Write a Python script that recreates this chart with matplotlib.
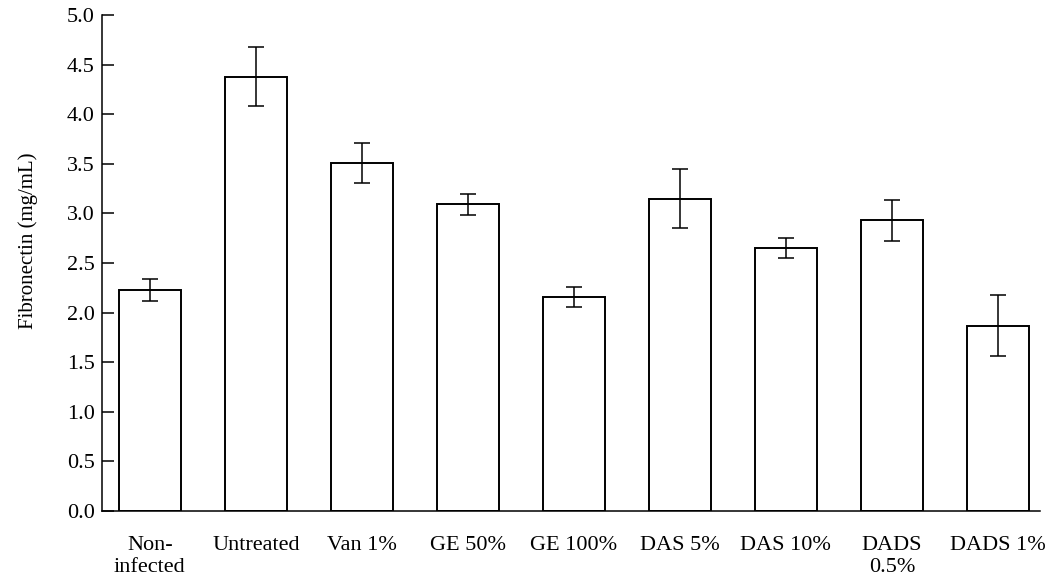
import matplotlib
matplotlib.use("Agg")
import matplotlib.pyplot as plt
import numpy as np

groups = ["Non-\ninfected", "Untreated", "Van 1%", "GE 50%", "GE 100%",
          "DAS 5%", "DAS 10%", "DADS\n0.5%", "DADS 1%"]
means = [2.23, 4.38, 3.51, 3.09, 2.16, 3.15, 2.65, 2.93, 1.87]
errors = [0.11, 0.30, 0.20, 0.11, 0.10, 0.30, 0.10, 0.21, 0.31]

plt.rcParams["font.family"] = ["Liberation Serif", "DejaVu Serif"]

fig = plt.figure(figsize=(10.53, 5.79), dpi=100)
ax = fig.add_axes([0.097, 0.1174, 0.891, 0.8567])

x = np.arange(len(groups))
ax.bar(x, means, width=0.58, color="white", edgecolor="black", linewidth=1.4,
       yerr=errors, capsize=6,
       error_kw=dict(ecolor="black", elinewidth=1.1, capthick=1.1))

ax.set_xlim(-0.45, 8.4)
ax.set_ylim(0, 5.0)
ax.set_yticks(np.arange(0, 5.01, 0.5))
ax.set_yticklabels(["%.1f" % v for v in np.arange(0, 5.01, 0.5)])
ax.set_xticks(x)
ax.set_xticklabels(groups, fontsize=16, linespacing=1.2, va="top")
ax.tick_params(axis="x", length=0, pad=18)
ax.tick_params(axis="y", direction="in", length=8.5, width=1.1, labelsize=16, pad=5.5)
ax.set_ylabel("Fibronectin (mg/mL)", fontsize=15)
ax.yaxis.set_label_coords(-0.068, 0.545)

for s in ["top", "right"]:
    ax.spines[s].set_visible(False)
for s in ["left", "bottom"]:
    ax.spines[s].set_linewidth(1.1)

fig.savefig("out.png", dpi=100)
